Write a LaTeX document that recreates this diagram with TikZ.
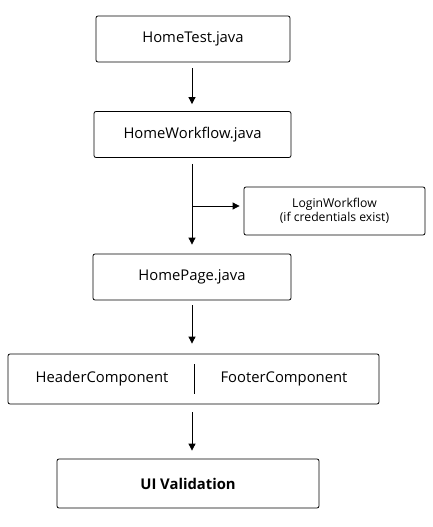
\documentclass[tikz,border=0pt]{standalone}
\usepackage{fontspec}
\setmainfont{Open Sans}
\usetikzlibrary{arrows.meta, positioning}

\tikzset{
  filebox/.style={draw, thick, rounded corners=2pt, minimum height=46pt, font=\fontsize{14.8}{16}\selectfont},
  notebox/.style={draw, thick, rounded corners=2pt, minimum height=48pt, font=\fontsize{12.2}{14.5}\selectfont, align=center},
  flow/.style={thick, -{Triangle[length=7pt, width=7pt]}}
}

\begin{document}
\begin{tikzpicture}[x=1pt, y=-1pt]
  \useasboundingbox (0,0) rectangle (433,527);

  % the call chain
  \node[filebox, minimum width=194pt] (test) at (193,39) {HomeTest.java};
  \node[filebox, minimum width=197pt] (workflow) at (192.5,134.5) {HomeWorkflow.java};
  \node[notebox, minimum width=181pt] (login) at (334.5,211) {LoginWorkflow\\(if credentials exist)};
  \node[filebox, minimum width=198pt] (page) at (192,277) {HomePage.java};
  \node[filebox, minimum width=371pt, minimum height=50pt] (comps) at (193.5,379) {};
  \node[font=\fontsize{14.8}{16}\selectfont] (header) at (102,379) {HeaderComponent};
  \node[font=\fontsize{14.8}{16}\selectfont] (footer) at (284,379) {FooterComponent};
  \node[filebox, minimum width=262pt, minimum height=49pt, font=\fontsize{14.8}{16}\selectfont\bfseries] (ui) at (188,483.5) {UI Validation};

  \coordinate (fork) at (192,206);
  \coordinate (divtop) at (194,364);
  \coordinate (divbot) at (194,394);

  \draw[flow] ([yshift=-6pt]test.south -| 192,0) -- ([yshift=7pt]workflow.north -| 192,0);
  \draw[flow] ([yshift=-6pt]workflow.south -| 192,0) -- ([yshift=9pt]page.north -| 192,0);
  \draw[flow] (fork) -- ([xshift=-4pt]fork -| login.west);
  \draw[flow] ([yshift=-5pt]page.south -| 192,0) -- ([yshift=10pt]comps.north -| 192,0);
  \draw[flow] ([yshift=-8pt]comps.south -| 192,0) -- ([yshift=8pt]ui.north -| 192,0);
  \draw[thick] (divtop) -- (divbot);
\end{tikzpicture}
\end{document}
